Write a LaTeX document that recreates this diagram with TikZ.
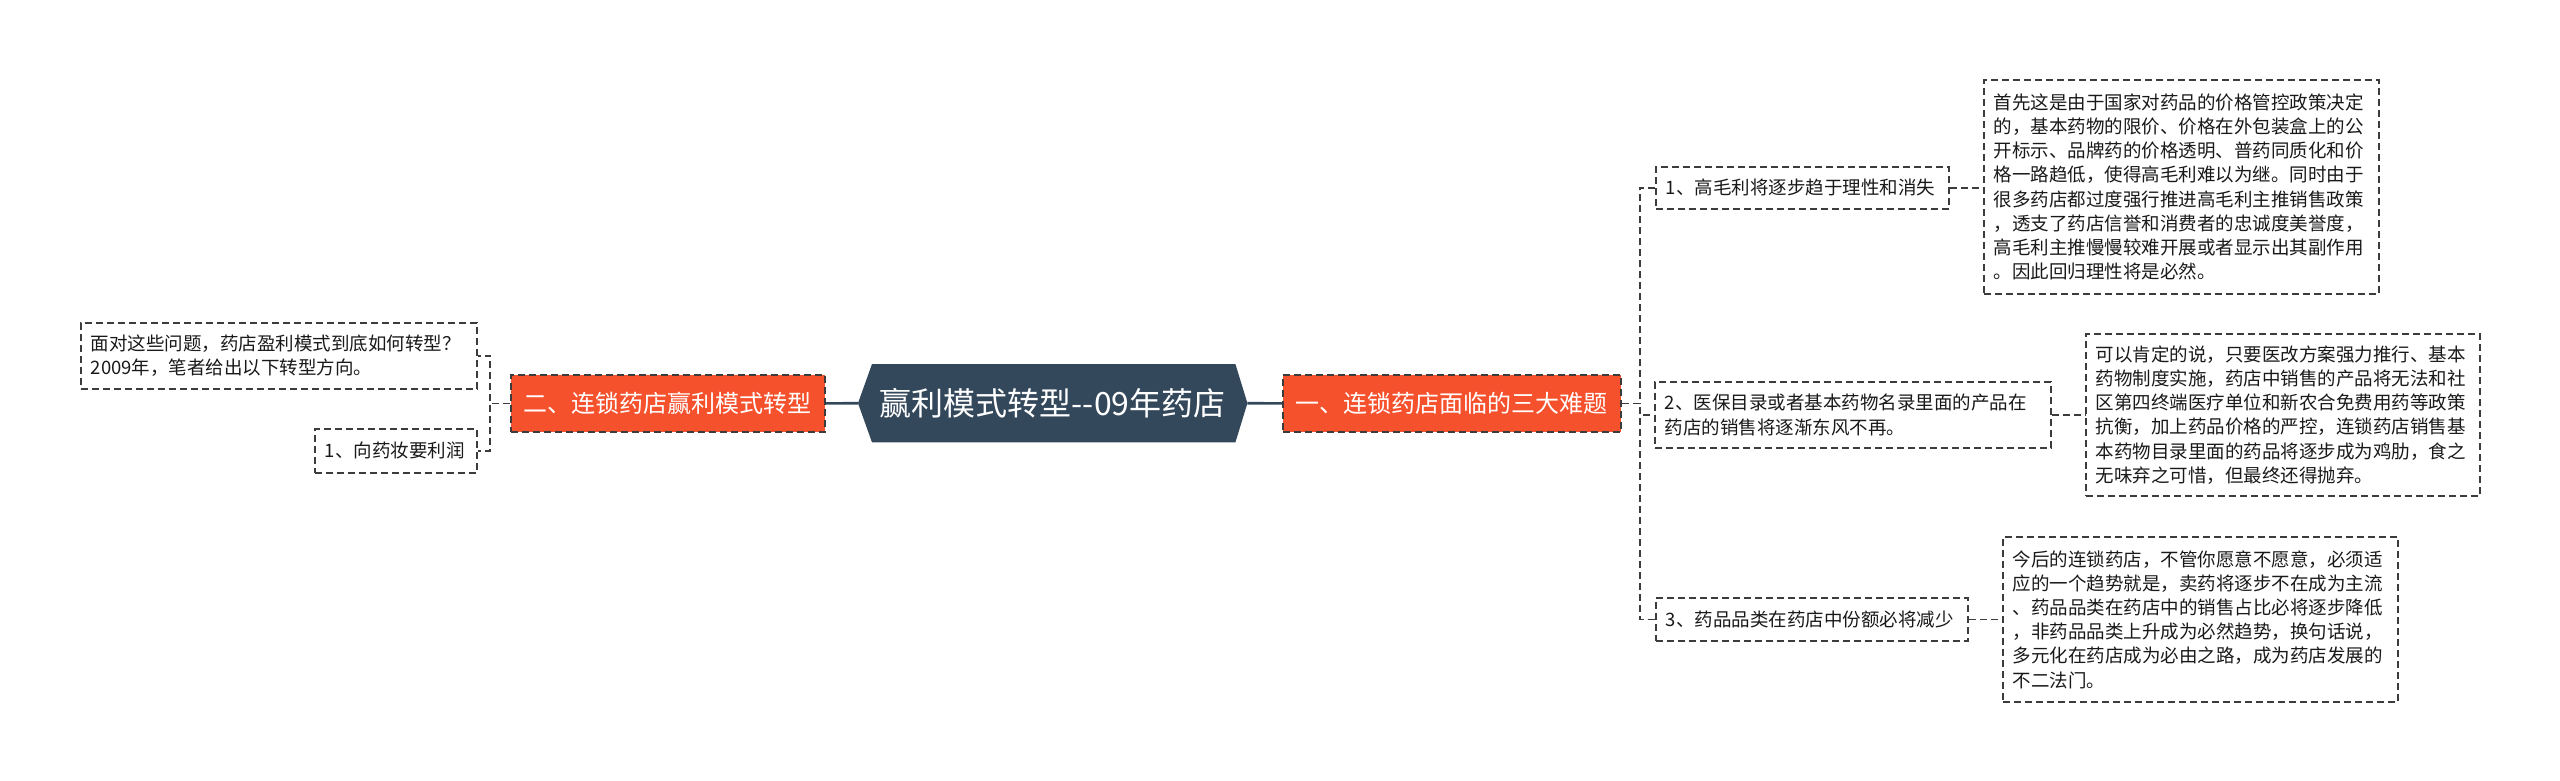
\documentclass[tikz,border=0pt]{standalone}
\usepackage{fontspec}
\setmainfont{Noto Sans CJK SC}
\usetikzlibrary{backgrounds}
\definecolor{rootfill}{RGB}{52,72,92}
\definecolor{mainfill}{RGB}{246,81,45}
\definecolor{linegray}{RGB}{60,60,60}
\definecolor{txt}{RGB}{25,25,25}
\tikzset{
  x=1pt, y=-1pt,
  leaf/.style={draw=linegray, line width=1.8pt, dash pattern=on 7pt off 4pt,
    inner xsep=10pt, inner ysep=0pt, align=left, text=txt,
    font=\fontsize{18.5}{24.2}\selectfont, anchor=north west},
  mainbox/.style={draw=linegray, line width=1.8pt, dash pattern=on 7pt off 4pt,
    fill=mainfill, text=white, inner sep=0pt, align=center,
    font=\fontsize{24}{28}\selectfont, anchor=north west},
  conn/.style={draw=linegray, line width=1.8pt, dash pattern=on 7pt off 4pt},
  rootconn/.style={draw=rootfill, line width=2.6pt},
}
\begin{document}
\begin{tikzpicture}
\useasboundingbox (0,0) rectangle (2560,781);
% root
\node[minimum width=389pt, minimum height=78pt, inner sep=0pt, text=white,
  font=\fontsize{32}{36}\selectfont, anchor=north west] (root) at (858,364) {赢利模式转型-{}-09年药店};
\begin{scope}[on background layer]
\fill[rootfill] (root.west) -- ([xshift=14pt]root.north west) -- ([xshift=-12pt]root.north east)
  -- (root.east) -- ([xshift=-12pt]root.south east) -- ([xshift=14pt]root.south west) -- cycle;
\end{scope}
% main nodes
\node[mainbox, minimum width=338pt, minimum height=57pt] (m1) at (1282,374) {一、连锁药店面临的三大难题};
\node[mainbox, minimum width=314pt, minimum height=57pt] (m2) at (510,374) {二、连锁药店赢利模式转型};
% right children
\node[leaf, text width=273pt, minimum height=42pt] (c1) at (1655,166) {1、高毛利将逐步趋于理性和消失};
\node[leaf, text width=376pt, minimum height=66pt] (c2) at (1654,381) {2、医保目录或者基本药物名录里面的产品在\\药店的销售将逐渐东风不再。};
\node[leaf, text width=292pt, minimum height=43pt] (c3) at (1655,597) {3、药品品类在药店中份额必将减少};
% details
\node[leaf, text width=375pt, minimum height=214pt] (d1) at (1983,79) {首先这是由于国家对药品的价格管控政策决定\\的，基本药物的限价、价格在外包装盒上的公\\开标示、品牌药的价格透明、普药同质化和价\\格一路趋低，使得高毛利难以为继。同时由于\\很多药店都过度强行推进高毛利主推销售政策\\，透支了药店信誉和消费者的忠诚度美誉度，\\高毛利主推慢慢较难开展或者显示出其副作用\\。因此回归理性将是必然。};
\node[leaf, text width=374pt, minimum height=162pt] (d2) at (2085,333) {可以肯定的说，只要医改方案强力推行、基本\\药物制度实施，药店中销售的产品将无法和社\\区第四终端医疗单位和新农合免费用药等政策\\抗衡，加上药品价格的严控，连锁药店销售基\\本药物目录里面的药品将逐步成为鸡肋，食之\\无味弃之可惜，但最终还得抛弃。};
\node[leaf, text width=375pt, minimum height=165pt] (d3) at (2002,536) {今后的连锁药店，不管你愿意不愿意，必须适\\应的一个趋势就是，卖药将逐步不在成为主流\\、药品品类在药店中的销售占比必将逐步降低\\，非药品品类上升成为必然趋势，换句话说，\\多元化在药店成为必由之路，成为药店发展的\\不二法门。};
% left children
\node[leaf, text width=376pt, minimum height=66pt] (l1) at (80,322) {面对这些问题，药店盈利模式到底如何转型？\\2009年，笔者给出以下转型方向。};
\node[leaf, text width=142pt, minimum height=44pt] (l2) at (314,428) {1、向药妆要利润};
% connectors
\draw[rootconn] (root.east) -- (m1.west);
\draw[rootconn] (root.west) -- (m2.east);
\draw[conn] (m1.east) -- ++(18,0) |- (c1.west);
\draw[conn] (m1.east) -- ++(18,0) |- (c2.west);
\draw[conn] (m1.east) -- ++(18,0) |- (c3.west);
\draw[conn] (c1.east) -- (c1.east -| d1.west);
\draw[conn] (c2.east) -- (c2.east -| d2.west);
\draw[conn] (c3.east) -- (c3.east -| d3.west);
\draw[conn] (m2.west) -- ++(-20,0) |- (l1.east);
\draw[conn] (m2.west) -- ++(-20,0) |- (l2.east);
\end{tikzpicture}
\end{document}
